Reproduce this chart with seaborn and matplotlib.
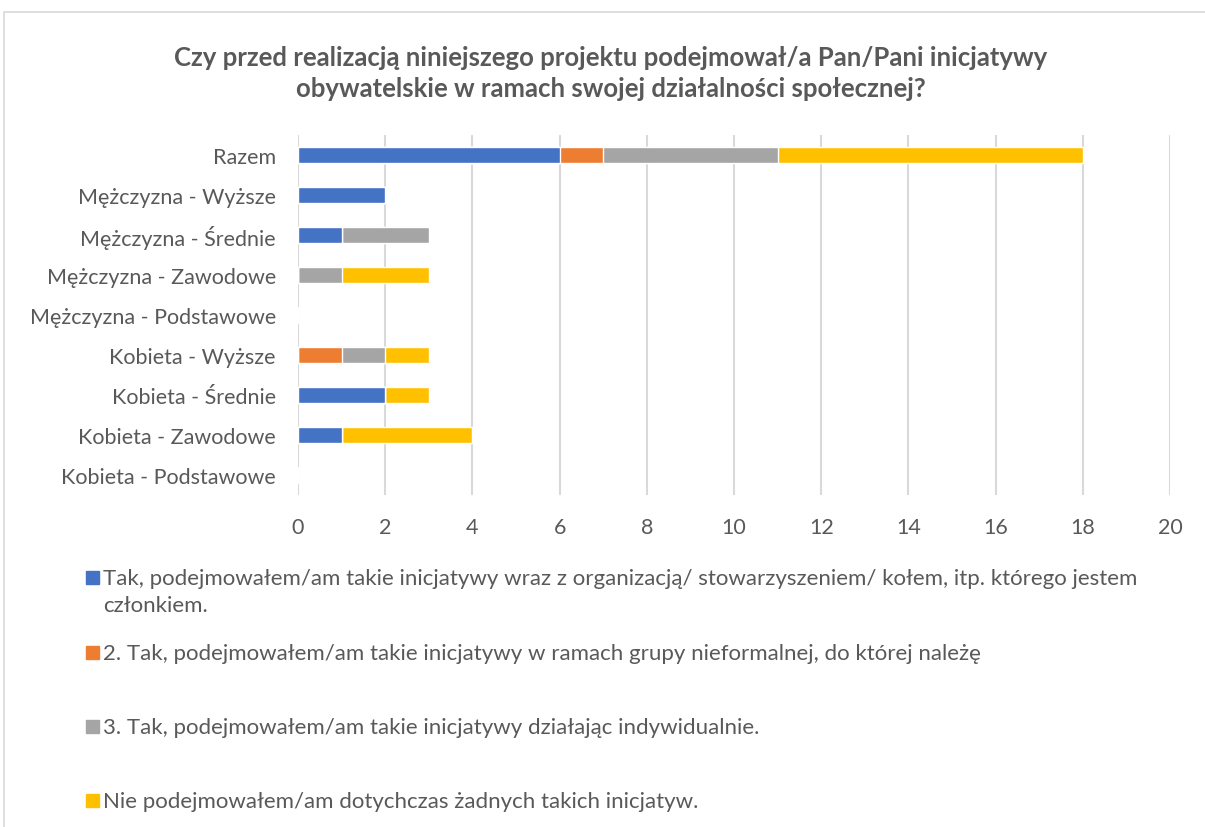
import numpy as np
import matplotlib.pyplot as plt
import seaborn as sns
from matplotlib.patches import Rectangle

# Dane
kategorie = ['Razem', 'Mężczyzna - Wyższe', 'Mężczyzna - Średnie', 'Mężczyzna - Zawodowe',
             'Mężczyzna - Podstawowe', 'Kobieta - Wyższe', 'Kobieta - Średnie',
             'Kobieta - Zawodowe', 'Kobieta - Podstawowe']
tak_organizacja = [6, 2, 1, 0, 0, 0, 2, 1, 0]
tak_grupa = [1, 0, 0, 0, 0, 1, 0, 0, 0]
tak_indywidualnie = [4, 0, 2, 1, 0, 1, 0, 0, 0]
nie = [7, 0, 0, 2, 0, 1, 1, 3, 0]

etykiety = ['Tak, podejmowałem/am takie inicjatywy wraz z organizacją/ stowarzyszeniem/ kołem, itp. którego jestem\nczłonkiem.',
            '2. Tak, podejmowałem/am takie inicjatywy w ramach grupy nieformalnej, do której należę',
            '3. Tak, podejmowałem/am takie inicjatywy działając indywidualnie.',
            'Nie podejmowałem/am dotychczas żadnych takich inicjatyw.']
kolory = ['#4472C4', '#ED7D31', '#A5A5A5', '#FFC000']

sns.set_style('white')
plt.rcParams['font.family'] = ['Lato', 'DejaVu Sans']
szary = '#595959'

fig = plt.figure(figsize=(12.05, 8.28), dpi=100)
ax = fig.add_axes([298 / 1205, 1 - 496 / 828, 872 / 1205, 360 / 828])

# Słupki skumulowane: rysujemy sumy od największej
serie = [tak_organizacja, tak_grupa, tak_indywidualnie, nie]
sumy = np.cumsum(np.array(serie), axis=0)
for i in range(len(serie) - 1, -1, -1):
    sns.barplot(x=sumy[i], y=kategorie, color=kolory[i], orient='h', width=0.4,
                saturation=1, ax=ax, zorder=3)

ax.set_xlim(0, 20)
ax.set_ylim(8.5, -0.5)
ax.set_xticks(range(0, 21, 2))
ax.set_xlabel('')
ax.set_ylabel('')
ax.grid(axis='x', color='#d9d9d9', linewidth=1.5, zorder=0)
ax.grid(axis='y', visible=False)
sns.despine(ax=ax, left=True, bottom=True)
ax.tick_params(axis='both', length=0, labelsize=15.5, colors=szary)
ax.tick_params(axis='x', pad=16)
ax.tick_params(axis='y', pad=16)

fig.text(611 / 1205, 1 - 58 / 828,
         'Czy przed realizacją niniejszego projektu podejmował/a Pan/Pani inicjatywy',
         ha='center', va='center', fontsize=18.5, fontweight='bold', color=szary)
fig.text(611 / 1205, 1 - 89 / 828,
         'obywatelskie w ramach swojej działalności społecznej?',
         ha='center', va='center', fontsize=18.5, fontweight='bold', color=szary)

# Legenda
pozycje = [580, 655, 729, 803]
for kolor, tekst, y in zip(kolory, etykiety, pozycje):
    fig.add_artist(Rectangle((86 / 1205, 1 - (y + 5) / 828), 13 / 1205, 13 / 828,
                             transform=fig.transFigure, color=kolor))
    fig.text(103 / 1205, 1 - (y - 11) / 828, tekst, ha='left', va='top',
             fontsize=16, color=szary, linespacing=1.45)

# Ramka
fig.add_artist(Rectangle((4 / 1205, -0.01), 1.1, 1 - 13 / 828 + 0.01, transform=fig.transFigure,
                         fill=False, edgecolor='#d9d9d9', linewidth=1.2))

fig.savefig('out.png', dpi=100)
